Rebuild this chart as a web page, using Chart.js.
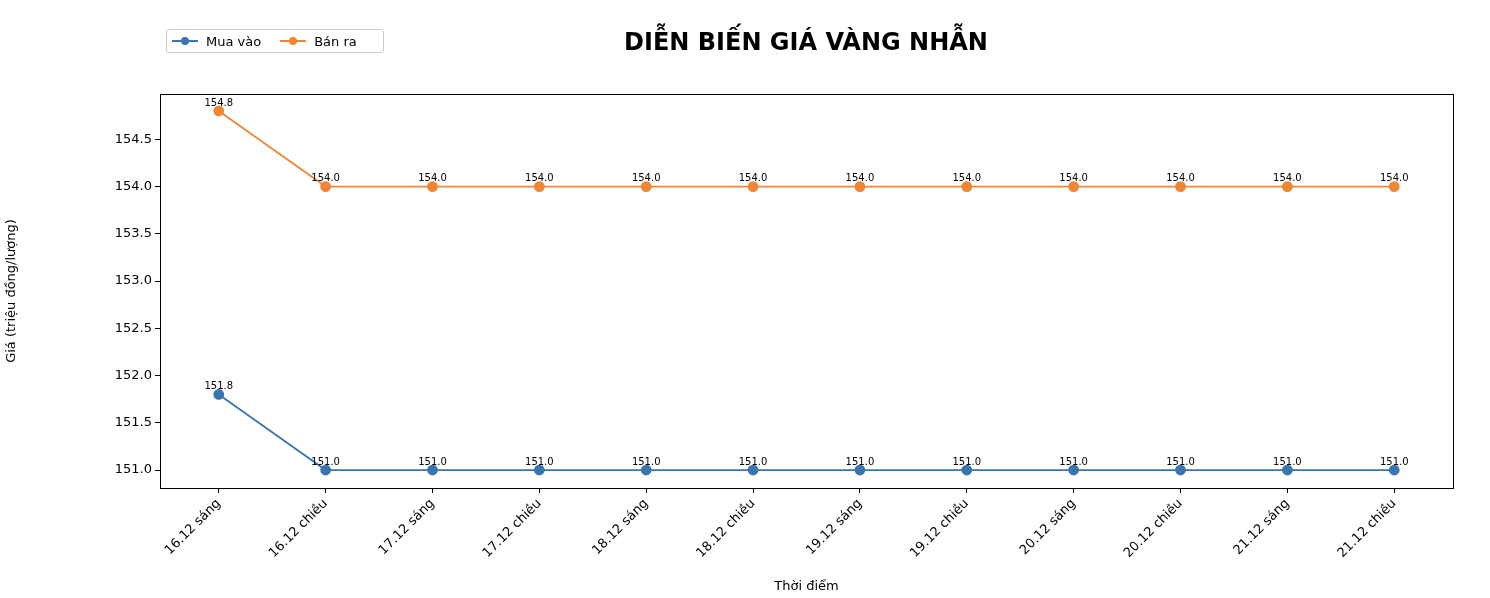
<!DOCTYPE html>
<html><head><meta charset="utf-8">
<script src="https://cdn.jsdelivr.net/npm/chart.js@4/dist/chart.umd.min.js"></script>
<style>
body{margin:0;background:#fff;font-family:"DejaVu Sans",sans-serif}
#wrap{position:relative;width:1490px;height:598px}
#legend{position:absolute;left:166px;top:29px;width:218px;height:24px;border:1px solid #ccc;border-radius:3px;font-size:13px;display:flex;align-items:center;box-sizing:border-box}
.it{display:flex;align-items:center;margin-left:5px;margin-right:14px}
.sw{position:relative;width:26px;height:2px;margin-right:8px}
.sw i{position:absolute;left:9px;top:-3px;width:8px;height:8px;border-radius:50%}
</style></head>
<body><div id="wrap"><canvas id="c" width="1490" height="598"></canvas>
<div id="legend">
 <div class="it"><div class="sw" style="background:#3b75af"><i style="background:#3b75af"></i></div>Mua vào</div>
 <div class="it"><div class="sw" style="background:#ef8636"><i style="background:#ef8636"></i></div>Bán ra</div>
</div></div>
<script>
const categories = ["16.12 sáng","16.12 chiều","17.12 sáng","17.12 chiều","18.12 sáng","18.12 chiều","19.12 sáng","19.12 chiều","20.12 sáng","20.12 chiều","21.12 sáng","21.12 chiều"];
const muaVao = [151.8,151.0,151.0,151.0,151.0,151.0,151.0,151.0,151.0,151.0,151.0,151.0];
const banRa = [154.8,154.0,154.0,154.0,154.0,154.0,154.0,154.0,154.0,154.0,154.0,154.0];

const pts = arr => arr.map((v, i) => ({x: i, y: v}));

const extras = {
    id: 'extras',
    afterDatasetsDraw(chart) {
        const ctx = chart.ctx, a = chart.chartArea;
        ctx.save();
        ctx.strokeStyle = '#000'; ctx.lineWidth = 1;
        ctx.strokeRect(a.left + 0.5, a.top + 0.5, a.right - a.left, a.bottom - a.top);
        ctx.fillStyle = '#000';
        ctx.font = '10px "DejaVu Sans"';
        ctx.textAlign = 'center'; ctx.textBaseline = 'bottom';
        chart.data.datasets.forEach((ds, di) => {
            chart.getDatasetMeta(di).data.forEach((p, i) => {
                ctx.fillText(ds.data[i].y.toFixed(1), p.x, p.y - 3);
            });
        });
        ctx.font = 'bold 24px "DejaVu Sans"';
        ctx.textBaseline = 'middle';
        ctx.fillText('DIỄN BIẾN GIÁ VÀNG NHẪN', 806, 44);
        ctx.restore();
    }
};

new Chart(document.getElementById('c').getContext('2d'), {
    type: 'line',
    data: {
        datasets: [
            {label: 'Mua vào', data: pts(muaVao), borderColor: '#3b75af', backgroundColor: '#3b75af', borderWidth: 1.8, pointRadius: 4.5, pointHoverRadius: 4.5},
            {label: 'Bán ra', data: pts(banRa), borderColor: '#ef8636', backgroundColor: '#ef8636', borderWidth: 1.8, pointRadius: 4.5, pointHoverRadius: 4.5}
        ]
    },
    options: {
        responsive: false,
        animation: false,
        layout: {padding: {top: 94, right: 37, left: 0, bottom: 0}},
        plugins: {legend: {display: false}, tooltip: {enabled: false}},
        scales: {
            x: {
                type: 'linear', min: -0.55, max: 11.55,
                afterFit: s => { s.height = 110; },
                afterBuildTicks: s => { s.ticks = categories.map((c, i) => ({value: i})); },
                ticks: {callback: v => categories[v], minRotation: 45, maxRotation: 45, color: '#000', font: {size: 13, family: 'DejaVu Sans'}},
                grid: {drawOnChartArea: false, tickLength: 5, color: '#000'},
                border: {color: '#000'},
                title: {display: true, text: 'Thời điểm', color: '#000', font: {size: 13, family: 'DejaVu Sans'}, padding: {top: 0}}
            },
            y: {
                min: 150.81, max: 154.98,
                afterFit: s => { s.width = 160; },
                afterBuildTicks: s => { s.ticks = [151,151.5,152,152.5,153,153.5,154,154.5].map(v => ({value: v})); },
                ticks: {callback: v => v.toFixed(1), color: '#000', font: {size: 13, family: 'DejaVu Sans'}},
                grid: {drawOnChartArea: false, tickLength: 5, color: '#000'},
                border: {color: '#000'},
                title: {display: true, text: 'Giá (triệu đồng/lượng)', color: '#000', font: {size: 13, family: 'DejaVu Sans'}}
            }
        }
    },
    plugins: [extras]
});
</script></body></html>
